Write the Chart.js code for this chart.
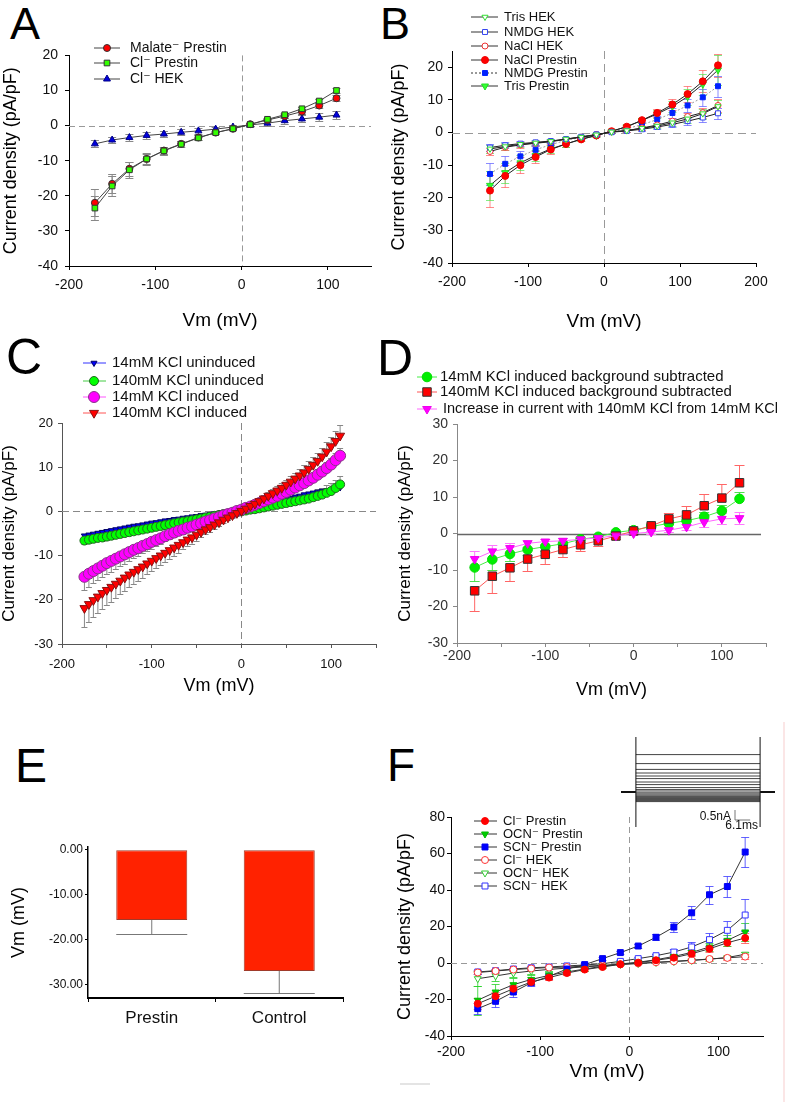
<!DOCTYPE html>
<html>
<head>
<meta charset="utf-8">
<script src="https://cdn.jsdelivr.net/npm/chart.js@4.4.1/dist/chart.umd.min.js"></script>
<style>
body { margin: 0; background: #fff; }
#page { position: relative; width: 787px; height: 1102px; overflow: hidden; font-family: "Liberation Sans", Arial, sans-serif; }
.pnl { position: absolute; }
.lt { position: absolute; line-height: 1; color: #000; }
</style>
</head>
<body>
<div id="page">
  <div class="lt" style="left:10px;top:1px;font-size:45px">A</div>
  <div class="lt" style="left:380px;top:1px;font-size:45px">B</div>
  <div class="lt" style="left:6px;top:332px;font-size:50px">C</div>
  <div class="lt" style="left:377px;top:333px;font-size:50px">D</div>
  <div class="lt" style="left:15px;top:742px;font-size:48px">E</div>
  <div class="lt" style="left:387px;top:742px;font-size:46px">F</div>

  <div class="pnl"><canvas id="chA"></canvas></div>
  <div class="pnl"><canvas id="chB"></canvas></div>
  <div class="pnl"><canvas id="chC"></canvas></div>
  <div class="pnl"><canvas id="chD"></canvas></div>
  <div class="pnl"><canvas id="chE"></canvas></div>
  <div class="pnl"><canvas id="chF"></canvas></div>
  <div class="pnl"><canvas id="chInset"></canvas></div>

  <div style="position:absolute;left:783px;top:722px;width:2px;height:380px;background:#fbe6e6"></div>
  <div style="position:absolute;left:400px;top:1083px;width:30px;height:2px;background:#e4e4e4"></div>
</div>

<script>
// ---- A: anion substitution
const vmA = [-170, -150, -130, -110, -90, -70, -50, -30, -10, 10, 30, 50, 70, 90, 110];
const malateA = [-22.0, -16.6, -12.3, -9.5, -7.1, -5.2, -3.4, -2.0, -0.9, 0.4, 1.6, 2.7, 4.0, 5.7, 7.8];
const malateAErr = [3.8, 2.7, 2.0, 1.5, 1.1, 0.8, 0.6, 0.5, 0.4, 0.4, 0.4, 0.5, 0.6, 0.7, 0.8];
const clPrestinA = [-23.5, -17.2, -12.6, -9.5, -7.2, -5.3, -3.5, -2.0, -0.9, 0.3, 1.8, 3.1, 4.8, 7.0, 10.0];
const clPrestinAErr = [3.5, 2.8, 2.2, 1.6, 1.2, 0.9, 0.7, 0.5, 0.4, 0.4, 0.4, 0.5, 0.6, 0.7, 0.8];
const clHekA = [-5.2, -4.1, -3.4, -2.8, -2.4, -1.9, -1.5, -1.0, -0.4, 0.2, 0.7, 1.4, 1.9, 2.4, 3.0];
const clHekAErr = [1.0, 0.9, 0.9, 0.9, 0.9, 0.8, 0.8, 0.7, 0.6, 0.6, 0.8, 0.9, 1.0, 1.1, 1.2];
const xTicksA = [-200, -100, 0, 100];
const yTicksA = [-40, -30, -20, -10, 0, 10, 20];

// ---- B: cation substitution
const vmB = [-150, -130, -110, -90, -70, -50, -30, -10, 10, 30, 50, 70, 90, 110, 130, 150];
const trisHekB = [-5.0, -4.3, -3.6, -3.2, -2.7, -2.0, -1.4, -0.7, 0.2, 0.6, 1.3, 2.0, 3.0, 4.2, 5.8, 8.0];
const trisHekBErr = [1.2, 1.0, 0.8, 0.7, 0.6, 0.5, 0.4, 0.3, 0.3, 0.4, 0.5, 0.7, 0.9, 1.2, 1.5, 2.0];
const nmdgHekB = [-4.6, -3.9, -3.4, -3.0, -2.6, -2.0, -1.3, -0.6, 0.1, 0.5, 1.0, 1.7, 2.5, 3.5, 4.6, 5.9];
const nmdgHekBErr = [1.0, 0.9, 0.8, 0.7, 0.6, 0.5, 0.4, 0.3, 0.3, 0.4, 0.5, 0.7, 0.9, 1.1, 1.4, 1.6];
const naclHekB = [-5.8, -4.5, -3.8, -3.3, -2.8, -2.1, -1.4, -0.7, 0.2, 0.6, 1.4, 2.3, 3.5, 4.9, 6.1, 8.3];
const naclHekBErr = [1.2, 1.0, 0.9, 0.8, 0.6, 0.5, 0.4, 0.3, 0.3, 0.4, 0.5, 0.7, 0.9, 1.2, 1.5, 2.0];
const naclPrestinB = [-17.8, -13.3, -10.0, -7.5, -5.2, -3.5, -2.1, -0.9, 0.4, 1.8, 3.8, 6.0, 8.6, 11.8, 15.7, 20.6];
const naclPrestinBErr = [4.9, 3.4, 2.5, 1.8, 1.3, 0.9, 0.6, 0.4, 0.4, 0.6, 0.8, 1.2, 1.6, 2.4, 3.4, 3.6];
const nmdgPrestinB = [-12.7, -9.6, -7.3, -5.3, -3.7, -2.4, -1.5, -0.6, 0.2, 1.2, 2.4, 4.0, 6.0, 8.3, 10.8, 14.2];
const nmdgPrestinBErr = [3.3, 2.3, 1.7, 1.2, 0.9, 0.7, 0.5, 0.4, 0.4, 0.5, 0.7, 1.0, 1.4, 2.0, 2.6, 3.2];
const trisPrestinB = [-16.2, -12.3, -9.3, -7.0, -5.0, -3.5, -2.0, -0.9, 0.4, 1.8, 3.7, 5.7, 8.0, 11.0, 14.8, 19.2];
const trisPrestinBErr = [4.4, 3.1, 2.3, 1.7, 1.2, 0.9, 0.6, 0.4, 0.4, 0.6, 0.8, 1.2, 1.7, 2.5, 3.3, 4.5];
const xTicksB = [-200, -100, 0, 100, 200];
const yTicksB = [-40, -30, -20, -10, 0, 10, 20];

// ---- C: KCl ramps
const vmC = [-175, -170, -165, -160, -155, -150, -145, -140, -135, -130,
  -125, -120, -115, -110, -105, -100, -95, -90, -85, -80,
  -75, -70, -65, -60, -55, -50, -45, -40, -35, -30,
  -25, -20, -15, -10, -5, 0, 5, 10, 15, 20,
  25, 30, 35, 40, 45, 50, 55, 60, 65, 70,
  75, 80, 85, 90, 95, 100, 105, 110];
const k14UnC = [-5.5, -5.3, -5.1, -4.9, -4.7, -4.5, -4.3, -4.1, -3.9, -3.7,
  -3.5, -3.3, -3.2, -3.0, -2.8, -2.6, -2.5, -2.3, -2.1, -2.0,
  -1.8, -1.7, -1.5, -1.4, -1.2, -1.1, -0.9, -0.8, -0.7, -0.5,
  -0.4, -0.3, -0.1, 0.0, 0.1, 0.2, 0.5, 0.7, 1.0, 1.2,
  1.4, 1.7, 2.0, 2.2, 2.5, 2.8, 3.0, 3.3, 3.5, 3.8,
  4.0, 4.2, 4.4, 4.6, 4.7, 4.9, 5.1, 5.4];
const k140UnC = [-6.6, -6.4, -6.2, -6.0, -5.9, -5.7, -5.5, -5.3, -5.1, -4.9,
  -4.7, -4.5, -4.3, -4.1, -3.9, -3.7, -3.5, -3.3, -3.1, -2.9,
  -2.7, -2.5, -2.3, -2.2, -2.0, -1.8, -1.6, -1.4, -1.2, -1.0,
  -0.8, -0.6, -0.5, -0.3, -0.2, 0.0, 0.2, 0.4, 0.5, 0.7,
  0.9, 1.1, 1.3, 1.5, 1.7, 1.9, 2.1, 2.3, 2.5, 2.7,
  2.9, 3.2, 3.5, 3.8, 4.2, 4.6, 5.3, 6.1];
const k140UnCErr = [0.8, 0.8, 0.8, 0.7, 0.7, 0.7, 0.7, 0.6, 0.6, 0.6,
  0.6, 0.6, 0.5, 0.5, 0.5, 0.5, 0.5, 0.4, 0.4, 0.4,
  0.4, 0.4, 0.4, 0.3, 0.3, 0.3, 0.3, 0.3, 0.3, 0.3,
  0.3, 0.3, 0.3, 0.3, 0.3, 0.3, 0.3, 0.3, 0.3, 0.4,
  0.4, 0.5, 0.5, 0.6, 0.7, 0.8, 0.9, 1.0, 1.1, 1.2,
  1.3, 1.4, 1.5, 1.6, 1.7, 1.8, 1.9, 2.0];
const k14InC = [-14.8, -14.1, -13.5, -12.9, -12.3, -11.7, -11.2, -10.7, -10.2, -9.7,
  -9.2, -8.7, -8.3, -7.8, -7.4, -6.9, -6.5, -6.1, -5.6, -5.2,
  -4.8, -4.4, -4.1, -3.7, -3.4, -3.0, -2.7, -2.3, -2.0, -1.6,
  -1.3, -0.9, -0.6, -0.3, 0.1, 0.4, 0.8, 1.1, 1.5, 1.9,
  2.3, 2.7, 3.1, 3.5, 4.0, 4.4, 4.9, 5.4, 5.9, 6.4,
  7.0, 7.6, 8.3, 9.0, 9.8, 10.6, 11.6, 12.6];
const k14InCErr = [3.0, 2.9, 2.8, 2.7, 2.6, 2.5, 2.4, 2.3, 2.2, 2.1,
  2.0, 1.9, 1.8, 1.7, 1.6, 1.5, 1.4, 1.3, 1.2, 1.1,
  1.0, 0.9, 0.9, 0.8, 0.8, 0.7, 0.7, 0.6, 0.6, 0.5,
  0.5, 0.4, 0.4, 0.3, 0.3, 0.3, 0.3, 0.4, 0.4, 0.5,
  0.5, 0.6, 0.6, 0.7, 0.7, 0.8, 0.8, 0.9, 0.9, 1.0,
  1.0, 1.1, 1.2, 1.3, 1.4, 1.5, 1.6, 1.8];
const k140InC = [-21.9, -21.0, -20.1, -19.3, -18.5, -17.8, -17.1, -16.4, -15.7, -15.0,
  -14.3, -13.7, -13.1, -12.5, -11.8, -11.2, -10.6, -10.0, -9.4, -8.8,
  -8.2, -7.6, -7.0, -6.4, -5.9, -5.3, -4.7, -4.1, -3.6, -3.0,
  -2.5, -1.9, -1.4, -0.9, -0.4, 0.1, 0.6, 1.2, 1.7, 2.3,
  2.9, 3.5, 4.1, 4.7, 5.3, 6.0, 6.7, 7.4, 8.1, 8.8,
  9.6, 10.5, 11.4, 12.4, 13.5, 14.7, 15.9, 17.1];
const k140InCErr = [4.2, 4.0, 3.9, 3.7, 3.6, 3.4, 3.3, 3.2, 3.0, 2.9,
  2.8, 2.7, 2.6, 2.5, 2.4, 2.3, 2.2, 2.1, 2.0, 1.9,
  1.8, 1.7, 1.6, 1.5, 1.4, 1.3, 1.2, 1.1, 1.0, 0.9,
  0.8, 0.7, 0.6, 0.5, 0.4, 0.3, 0.3, 0.4, 0.5, 0.6,
  0.7, 0.8, 0.9, 1.0, 1.1, 1.2, 1.3, 1.4, 1.5, 1.6,
  1.7, 1.8, 1.9, 2.0, 2.1, 2.2, 2.3, 2.4];
const xTicksCD = [-200, -150, -100, -50, 0, 50, 100, 150];
const xLabelsCD = [-200, -100, 0, 100];
const yTicksC = [-30, -20, -10, 0, 10, 20];

// ---- D: background subtracted
const vmD = [-180, -160, -140, -120, -100, -80, -60, -40, -20, 0, 20, 40, 60, 80, 100, 120];
const k14SubD = [-9.3, -7.1, -5.6, -4.4, -3.6, -2.8, -1.6, -0.9, 0.3, 0.9, 1.9, 2.8, 3.5, 4.6, 6.2, 9.5];
const k14SubDErr = [3.7, 2.8, 2.0, 1.5, 1.2, 1.0, 0.8, 0.6, 0.5, 0.5, 0.6, 0.8, 1.0, 1.2, 1.5, 2.0];
const k140SubD = [-15.7, -11.7, -9.4, -7.0, -5.7, -4.4, -3.1, -2.0, -0.7, 0.7, 2.1, 4.0, 5.1, 7.6, 9.7, 13.9];
const k140SubDErr = [5.6, 4.6, 3.6, 3.2, 2.6, 2.1, 1.7, 1.5, 0.8, 0.5, 0.7, 1.6, 2.5, 3.1, 3.9, 4.8];
const increaseD = [-7.0, -4.9, -4.0, -2.7, -2.2, -2.0, -1.6, -1.2, -0.6, 0.0, 0.4, 0.9, 1.8, 3.1, 4.0, 4.2];
const increaseDErr = [2.2, 1.7, 1.3, 1.0, 0.8, 0.7, 0.6, 0.5, 0.4, 0.4, 0.4, 0.6, 0.9, 1.2, 1.5, 1.6];
const yTicksD = [-30, -20, -10, 0, 10, 20, 30];

// ---- E: resting potential
const groupsE = ['Prestin', 'Control'];
const vmE = [-15.6, -26.9];
const vmEErr = [3.0, 4.9];
const yTicksE = [-30, -20, -10, 0];

// ---- F: SCN / OCN
const vmF = [-170, -150, -130, -110, -90, -70, -50, -30, -10, 10, 30, 50, 70, 90, 110, 130];
const clPrestinF = [-22.3, -18.2, -14.1, -10.4, -8.0, -5.5, -3.6, -2.2, -0.7, 0.2, 1.5, 2.9, 5.1, 7.8, 11.1, 13.7];
const clPrestinFErr = [3.0, 2.5, 2.0, 1.5, 1.2, 1.0, 0.8, 0.6, 0.5, 0.5, 0.6, 0.8, 1.0, 1.5, 2.0, 2.5];
const ocnPrestinF = [-20.4, -15.9, -11.9, -9.0, -6.8, -4.9, -3.3, -1.8, -0.5, 0.4, 1.8, 3.6, 5.8, 8.8, 12.4, 17.0];
const ocnPrestinFErr = [8.0, 4.5, 3.5, 2.5, 1.8, 1.2, 0.9, 0.7, 0.5, 0.5, 0.7, 1.0, 1.5, 2.2, 3.0, 5.0];
const scnPrestinF = [-25.0, -21.0, -15.9, -10.8, -7.3, -3.3, -0.9, 2.4, 5.7, 9.3, 14.1, 19.7, 27.5, 37.4, 41.9, 60.8];
const scnPrestinFErr = [3.0, 3.0, 2.5, 1.8, 1.3, 1.0, 0.9, 0.9, 1.0, 1.2, 1.6, 2.8, 3.6, 5.0, 6.0, 8.0];
const clHekF = [-5.2, -4.4, -3.6, -3.0, -2.5, -2.2, -1.8, -1.3, -0.7, -0.2, 0.4, 0.9, 1.5, 2.2, 2.8, 3.5];
const clHekFErr = [1.0, 0.9, 0.8, 0.7, 0.6, 0.5, 0.5, 0.4, 0.4, 0.4, 0.4, 0.5, 0.6, 0.7, 0.9, 1.2];
const ocnHekF = [-8.6, -7.1, -5.5, -4.4, -3.5, -2.8, -2.1, -1.5, -0.8, -0.3, 0.3, 0.8, 1.4, 2.1, 3.0, 4.8];
const ocnHekFErr = [4.0, 3.0, 2.2, 1.5, 1.1, 0.8, 0.6, 0.5, 0.4, 0.4, 0.4, 0.5, 0.6, 0.8, 1.0, 1.5];
const scnHekF = [-4.9, -4.2, -3.3, -2.6, -2.2, -1.6, -1.1, -0.4, 0.9, 2.4, 4.0, 6.0, 8.8, 12.8, 17.9, 26.3];
const scnHekFErr = [1.0, 0.9, 0.8, 0.7, 0.6, 0.5, 0.5, 0.5, 0.6, 0.7, 1.0, 1.5, 2.5, 3.5, 5.0, 8.5];
const xTicksF = [-200, -100, 0, 100];
const yTicksF = [-40, -20, 0, 20, 40, 60, 80];

// ---- F inset: current traces (nA vs ms)
const insetLevels = [1.87, 1.42, 1.13, 0.95, 0.80, 0.67, 0.50, 0.37, 0.22, 0.12, 0.05,
  -0.04, -0.10, -0.16, -0.22, -0.28, -0.33, -0.38, -0.43, -0.48];
const insetStep = [0, 50];
const insetBase = [-6, 56];
const insetTransient = [-1.75, 2.75];
const insetBarT = [39.9, 46.0];
const insetBarI = [-1.4, -0.9];

Chart.defaults.font.family = '"Liberation Sans", Arial, "DejaVu Sans", sans-serif';
Chart.defaults.color = '#111';

// dashed zero lines
const refLines = {
  id: 'refLines',
  beforeDatasetsDraw(chart, args, o) {
    if (!o || (!o.h && !o.v)) return;
    const ctx = chart.ctx, a = chart.chartArea, xs = chart.scales.x, ys = chart.scales.y;
    ctx.save();
    ctx.strokeStyle = o.color;
    ctx.lineWidth = o.width;
    ctx.setLineDash(o.dash || []);
    ctx.beginPath();
    if (o.h) {
      const py = Math.round(ys.getPixelForValue(0)) + 0.5;
      ctx.moveTo(a.left, py); ctx.lineTo(o.hEnd != null ? o.hEnd : a.right, py);
    }
    if (o.v) {
      const px = Math.round(xs.getPixelForValue(0)) + 0.5;
      ctx.moveTo(px, a.top); ctx.lineTo(px, a.bottom);
    }
    ctx.stroke();
    ctx.restore();
  }
};

// error bars from dataset.err
const errorBars = {
  id: 'errorBars',
  beforeDatasetsDraw(chart) {
    const ctx = chart.ctx, ys = chart.scales.y;
    ctx.save();
    ctx.setLineDash([]);
    chart.data.datasets.forEach((ds, i) => {
      if (!ds.err) return;
      const meta = chart.getDatasetMeta(i);
      ctx.strokeStyle = ds.errColor || '#888';
      ctx.lineWidth = 1;
      meta.data.forEach((el, j) => {
        const raw = ds.data[j];
        const v = typeof raw === 'number' ? raw : raw.y;
        const e = ds.err[j];
        if (e == null) return;
        const cap = ds.capHalf != null ? ds.capHalf : el.width / 2;
        const ends = ds.errAway ? [v < 0 ? v - e : v + e] : [v - e, v + e];
        const y0 = ys.getPixelForValue(v);
        ctx.beginPath();
        ends.forEach(t => {
          const y1 = Math.round(ys.getPixelForValue(t)) + 0.5;
          ctx.moveTo(el.x, y0); ctx.lineTo(el.x, y1);
          ctx.moveTo(el.x - cap, y1); ctx.lineTo(el.x + cap, y1);
        });
        ctx.stroke();
      });
    });
    ctx.restore();
  }
};

// legend rows at fixed page positions
const keyList = {
  id: 'keyList',
  afterDatasetsDraw(chart, args, o) {
    if (!o || !o.rows) return;
    const ctx = chart.ctx, dx = o.off[0], dy = o.off[1];
    ctx.save();
    o.rows.forEach(r => {
      const ds = chart.data.datasets[r.ds];
      const y = r.y - dy;
      ctx.setLineDash(ds.borderDash || []);
      ctx.strokeStyle = o.lineColor || ds.borderColor;
      ctx.lineWidth = 1;
      ctx.beginPath();
      ctx.moveTo(o.lx[0] - dx, y); ctx.lineTo(o.lx[1] - dx, y);
      ctx.stroke();
      ctx.setLineDash([]);
      ctx.fillStyle = ds.pointBackgroundColor;
      ctx.strokeStyle = ds.pointBorderColor;
      ctx.lineWidth = ds.pointBorderWidth;
      Chart.helpers.drawPoint(ctx, {
        pointStyle: ds.pointStyle, rotation: ds.pointRotation || 0,
        radius: ds.pointRadius, borderWidth: ds.pointBorderWidth
      }, o.mx - dx, y);
      ctx.fillStyle = '#111';
      ctx.font = o.font;
      ctx.textAlign = 'left';
      ctx.textBaseline = 'middle';
      if (r.maxW) ctx.fillText(r.text, (r.tx || o.tx) - dx, y, r.maxW);
      else ctx.fillText(r.text, (r.tx || o.tx) - dx, y);
    });
    ctx.restore();
  }
};

function ser(xs, ys, err, st) {
  return Object.assign({
    data: xs.map((x, i) => ({ x: x, y: ys[i] })),
    err: err, fill: false, tension: 0, borderWidth: 1,
    pointBorderWidth: 1, pointRotation: 0, pointHoverRadius: 0, clip: false
  }, st);
}

function ivChart(id, p) {
  const [bl, bt, br, bb] = p.box, [al, at, ar, ab] = p.area;
  const cv = document.getElementById(id);
  Object.assign(cv.parentNode.style, {
    left: bl + 'px', top: bt + 'px', width: (br - bl) + 'px', height: (bb - bt) + 'px'
  });
  const axis = (o, isX) => ({
    type: 'linear', min: o.min, max: o.max,
    afterBuildTicks: s => { s.ticks = o.ticks.map(v => ({ value: v })); },
    afterFit: s => { if (isX) s.height = bb - ab; else s.width = al - bl; },
    ticks: {
      autoSkip: false, maxRotation: 0, minRotation: 0, padding: o.pad,
      color: o.tc || '#111', font: { size: o.fs },
      callback: v => (!o.labels || o.labels.includes(v)) ? String(v) : ''
    },
    grid: { drawOnChartArea: false, drawTicks: true, tickLength: o.tl, color: o.color },
    border: { color: o.color, width: o.bw || 1 },
    title: {
      display: true, text: o.title, color: '#000', font: { size: o.tfs },
      padding: isX ? { top: 0, bottom: bb - o.at - 0.6 * o.tfs } : { top: o.at - bl - 0.6 * o.tfs, bottom: 0 }
    }
  });
  return new Chart(cv, {
    type: 'line',
    data: { datasets: p.datasets },
    options: {
      responsive: true, maintainAspectRatio: false, animation: false, events: [],
      layout: { padding: { left: 0, top: at - bt, right: br - ar, bottom: 0 } },
      scales: { x: axis(p.x, true), y: axis(p.y, false) },
      plugins: {
        legend: { display: false }, tooltip: { enabled: false },
        refLines: p.ref,
        keyList: Object.assign({ off: [bl, bt] }, p.key)
      }
    },
    plugins: [refLines, errorBars, keyList]
  });
}

// A
ivChart('chA', {
  box: [0, 40, 385, 335], area: [69, 53, 371, 266],
  x: { min: -200, max: 150, ticks: xTicksA, fs: 14, tl: 4, pad: 6.6, color: '#000', title: 'Vm (mV)', tfs: 19, at: 321 },
  y: { min: -40, max: 20, ticks: yTicksA, fs: 14, tl: 4, pad: 7, color: '#000', title: 'Current density (pA/pF)', tfs: 18, at: 11 },
  ref: { h: true, v: true, dash: [6, 4], color: '#999', width: 1 },
  key: {
    lx: [94, 120], mx: 107, tx: 130, font: '14px "Liberation Sans", Arial, "DejaVu Sans", sans-serif', lineColor: '#444',
    rows: [{ ds: 1, y: 48, text: 'Malate⁻ Prestin' }, { ds: 0, y: 63, text: 'Cl⁻ Prestin' }, { ds: 2, y: 79, text: 'Cl⁻ HEK' }]
  },
  datasets: [
    ser(vmA, clPrestinA, clPrestinAErr, { borderColor: '#444', pointStyle: 'rect', pointRadius: 4, pointBackgroundColor: '#33ff00', pointBorderColor: '#333', errColor: '#888', capHalf: 4 }),
    ser(vmA, malateA, malateAErr, { borderColor: '#444', pointStyle: 'circle', pointRadius: 3.5, pointBackgroundColor: '#ff0000', pointBorderColor: '#333', errColor: '#888', capHalf: 4 }),
    ser(vmA, clHekA, clHekAErr, { borderColor: '#444', pointStyle: 'triangle', pointRadius: 4, pointBackgroundColor: '#0000dd', pointBorderColor: '#000088', errColor: '#888', capHalf: 4 })
  ]
});

// B
ivChart('chB', {
  box: [390, 0, 787, 335], area: [452, 51, 756, 263],
  x: { min: -200, max: 200, ticks: xTicksB, fs: 14, tl: 4, pad: 6.6, color: '#000', title: 'Vm (mV)', tfs: 19, at: 322 },
  y: { min: -40, max: 25, ticks: yTicksB, fs: 14, tl: 4, pad: 5, color: '#000', title: 'Current density (pA/pF)', tfs: 18, at: 399 },
  ref: { h: true, v: true, dash: [8, 5], color: '#999', width: 1 },
  key: {
    lx: [471, 498], mx: 485, tx: 504, font: '13px "Liberation Sans", Arial, "DejaVu Sans", sans-serif', lineColor: '#333',
    rows: [
      { ds: 0, y: 17, text: 'Tris HEK' }, { ds: 1, y: 32, text: 'NMDG HEK' }, { ds: 2, y: 46, text: 'NaCl HEK' },
      { ds: 3, y: 60, text: 'NaCl Prestin' }, { ds: 4, y: 73, text: 'NMDG Prestin' }, { ds: 5, y: 86, text: 'Tris Prestin' }
    ]
  },
  datasets: [
    ser(vmB, trisHekB, trisHekBErr, { borderColor: '#222', pointStyle: 'triangle', pointRotation: 180, pointRadius: 3.5, pointBackgroundColor: '#ffffff', pointBorderColor: '#33dd33', errColor: 'rgba(80,230,80,0.7)', capHalf: 4 }),
    ser(vmB, nmdgHekB, nmdgHekBErr, { borderColor: '#222', pointStyle: 'rect', pointRadius: 3.5, pointBackgroundColor: '#ffffff', pointBorderColor: '#3344ee', errColor: 'rgba(90,90,255,0.7)', capHalf: 4 }),
    ser(vmB, naclHekB, naclHekBErr, { borderColor: '#222', pointStyle: 'circle', pointRadius: 3, pointBackgroundColor: '#ffffff', pointBorderColor: '#ee3333', errColor: 'rgba(255,90,90,0.7)', capHalf: 4 }),
    ser(vmB, naclPrestinB, naclPrestinBErr, { borderColor: '#222', pointStyle: 'circle', pointRadius: 3.5, pointBackgroundColor: '#ff0000', pointBorderColor: '#ee0000', errColor: 'rgba(255,90,90,0.7)', capHalf: 4 }),
    ser(vmB, nmdgPrestinB, nmdgPrestinBErr, { borderColor: '#999', borderDash: [2, 2], pointStyle: 'rect', pointRadius: 3.5, pointBackgroundColor: '#0022ff', pointBorderColor: '#0022ff', errColor: 'rgba(90,90,255,0.7)', capHalf: 4 }),
    ser(vmB, trisPrestinB, trisPrestinBErr, { borderColor: '#222', pointStyle: 'triangle', pointRotation: 180, pointRadius: 4, pointBackgroundColor: '#33ff33', pointBorderColor: '#22dd22', errColor: 'rgba(80,230,80,0.7)', capHalf: 4 })
  ]
});

// C
ivChart('chC', {
  box: [0, 340, 385, 700], area: [62, 423, 378, 644],
  x: { min: -200, max: 150, ticks: xTicksCD, labels: xLabelsCD, fs: 13, tl: 4, pad: 9, color: '#555', title: 'Vm (mV)', tfs: 18, at: 686 },
  y: { min: -30, max: 20, ticks: yTicksC, fs: 13, tl: 4, pad: 5, color: '#555', title: 'Current density (pA/pF)', tfs: 17, at: 9 },
  ref: { h: true, v: true, dash: [7, 4], color: '#888', width: 1 },
  key: {
    lx: [83, 106], mx: 94, tx: 112, font: '15px "Liberation Sans", Arial, "DejaVu Sans", sans-serif',
    rows: [
      { ds: 3, y: 363, text: '14mM KCl uninduced' }, { ds: 2, y: 381, text: '140mM KCl uninduced' },
      { ds: 1, y: 397, text: '14mM KCl induced' }, { ds: 0, y: 413, text: '140mM KCl induced' }
    ]
  },
  datasets: [
    ser(vmC, k140InC, k140InCErr, { borderColor: '#ff5555', pointStyle: 'triangle', pointRotation: 180, pointRadius: 5.2, pointBackgroundColor: '#ff0000', pointBorderColor: '#881111', errColor: '#888', capHalf: 3, errAway: true }),
    ser(vmC, k14InC, k14InCErr, { borderColor: '#ff55ff', pointStyle: 'circle', pointRadius: 5.5, pointBackgroundColor: '#ff00ff', pointBorderColor: '#883388', errColor: '#888', capHalf: 3, errAway: true }),
    ser(vmC, k140UnC, k140UnCErr, { borderColor: '#44cc44', pointStyle: 'circle', pointRadius: 4.5, pointBackgroundColor: '#00ff00', pointBorderColor: '#226622', errColor: '#888', capHalf: 3, errAway: true }),
    ser(vmC, k14UnC, null, { borderColor: '#3333ff', pointStyle: 'triangle', pointRotation: 180, pointRadius: 3.5, pointBackgroundColor: '#0000ff', pointBorderColor: '#000066' })
  ]
});

// D
ivChart('chD', {
  box: [390, 365, 787, 705], area: [457, 424, 766, 643],
  x: { min: -200, max: 150, ticks: xTicksCD, labels: xLabelsCD, fs: 14, tl: 4, pad: 1, color: '#888', tc: '#333', title: 'Vm (mV)', tfs: 18, at: 690 },
  y: { min: -30, max: 30, ticks: yTicksD, fs: 14, tl: 4, pad: 5, color: '#888', tc: '#333', title: 'Current density (pA/pF)', tfs: 17, at: 405 },
  ref: { h: true, v: false, dash: [], color: '#666', width: 1.5, hEnd: 371 },
  key: {
    lx: [417, 437], mx: 427, tx: 440, font: '15px "Liberation Sans", Arial, "DejaVu Sans", sans-serif',
    rows: [
      { ds: 2, y: 377, text: '14mM KCl induced background subtracted' },
      { ds: 1, y: 392, text: '140mM KCl induced background subtracted' },
      { ds: 0, y: 409, tx: 443, maxW: 335, text: 'Increase in current with 140mM KCl from 14mM KCl' }
    ]
  },
  datasets: [
    ser(vmD, increaseD, increaseDErr, { borderColor: '#ff66ff', pointStyle: 'triangle', pointRotation: 180, pointRadius: 5, pointBackgroundColor: '#ff00ff', pointBorderColor: '#ee00ee', errColor: '#ff77ff', capHalf: 5 }),
    ser(vmD, k140SubD, k140SubDErr, { borderColor: '#ff5555', pointStyle: 'rect', pointRadius: 6, pointBackgroundColor: '#ff0000', pointBorderColor: '#333', errColor: '#ff6666', capHalf: 5, errAway: true }),
    ser(vmD, k14SubD, k14SubDErr, { borderColor: '#44ee44', pointStyle: 'circle', pointRadius: 4.8, pointBackgroundColor: '#00ee00', pointBorderColor: '#00dd00', errColor: 'rgba(60,220,60,0.9)', capHalf: 5, errAway: true })
  ]
});

// F
ivChart('chF', {
  box: [390, 800, 787, 1090], area: [451, 817, 763, 1036],
  x: { min: -200, max: 150, ticks: xTicksF, fs: 14, tl: 4, pad: 3.6, color: '#000', title: 'Vm (mV)', tfs: 19, at: 1072 },
  y: { min: -40, max: 80, ticks: yTicksF, fs: 14, tl: 4, pad: 2, color: '#000', title: 'Current density (pA/pF)', tfs: 18, at: 405 },
  ref: { h: true, v: true, dash: [6, 4], color: '#999', width: 1 },
  key: {
    lx: [474, 497], mx: 485, tx: 503, font: '13px "Liberation Sans", Arial, "DejaVu Sans", sans-serif', lineColor: '#333',
    rows: [
      { ds: 0, y: 821, text: 'Cl⁻ Prestin' }, { ds: 1, y: 834, text: 'OCN⁻ Prestin' }, { ds: 2, y: 847, text: 'SCN⁻ Prestin' },
      { ds: 3, y: 860, text: 'Cl⁻ HEK' }, { ds: 4, y: 873, text: 'OCN⁻ HEK' }, { ds: 5, y: 886, text: 'SCN⁻ HEK' }
    ]
  },
  datasets: [
    ser(vmF, clPrestinF, clPrestinFErr, { borderColor: '#333', pointStyle: 'circle', pointRadius: 3.5, pointBackgroundColor: '#ff0000', pointBorderColor: '#ff0000', errColor: 'rgba(255,80,80,0.8)', capHalf: 4 }),
    ser(vmF, ocnPrestinF, ocnPrestinFErr, { borderColor: '#333', pointStyle: 'triangle', pointRotation: 180, pointRadius: 4, pointBackgroundColor: '#00cc00', pointBorderColor: '#00bb00', errColor: 'rgba(40,210,40,0.8)', capHalf: 4 }),
    ser(vmF, scnPrestinF, scnPrestinFErr, { borderColor: '#333', pointStyle: 'rect', pointRadius: 4.2, pointBackgroundColor: '#0000ff', pointBorderColor: '#0000ee', errColor: 'rgba(60,60,255,0.8)', capHalf: 4 }),
    ser(vmF, clHekF, clHekFErr, { borderColor: '#333', pointStyle: 'circle', pointRadius: 3.5, pointBackgroundColor: '#ffffff', pointBorderColor: '#ff3333', errColor: 'rgba(255,80,80,0.8)', capHalf: 4 }),
    ser(vmF, ocnHekF, ocnHekFErr, { borderColor: '#333', pointStyle: 'triangle', pointRotation: 180, pointRadius: 4, pointBackgroundColor: '#ffffff', pointBorderColor: '#33cc33', errColor: 'rgba(40,210,40,0.8)', capHalf: 4 }),
    ser(vmF, scnHekF, scnHekFErr, { borderColor: '#333', pointStyle: 'rect', pointRadius: 4.2, pointBackgroundColor: '#ffffff', pointBorderColor: '#3333ff', errColor: 'rgba(60,60,255,0.8)', capHalf: 4 })
  ]
});

// E: bar chart
(function () {
  const box = [0, 830, 360, 1045], area = [88, 847, 343, 998];
  const cv = document.getElementById('chE');
  Object.assign(cv.parentNode.style, {
    left: box[0] + 'px', top: box[1] + 'px', width: (box[2] - box[0]) + 'px', height: (box[3] - box[1]) + 'px'
  });
  new Chart(cv, {
    type: 'bar',
    data: {
      labels: groupsE,
      datasets: [{
        data: vmE, err: vmEErr, errAway: true, errColor: '#777',
        backgroundColor: '#ff2200', borderColor: '#a03a2a', borderWidth: 1, borderSkipped: false,
        barPercentage: 0.557, categoryPercentage: 1
      }]
    },
    options: {
      responsive: true, maintainAspectRatio: false, animation: false, events: [],
      layout: { padding: { left: 0, top: area[1] - box[1], right: box[2] - area[2], bottom: 0 } },
      scales: {
        x: {
          afterFit: s => { s.height = box[3] - area[3]; },
          ticks: { font: { size: 17 }, color: '#111', padding: 5.8 },
          grid: { drawOnChartArea: false, tickLength: 4, color: '#000' },
          border: { color: '#000', width: 2 }
        },
        y: {
          min: -32.9, max: 0.6,
          afterBuildTicks: s => { s.ticks = yTicksE.map(v => ({ value: v })); },
          afterFit: s => { s.width = area[0] - box[0]; },
          ticks: { font: { size: 12 }, color: '#111', padding: 2, callback: v => v.toFixed(2) },
          grid: { drawOnChartArea: false, tickLength: 3, color: '#000' },
          border: { color: '#000', width: 1.5 },
          title: { display: true, text: 'Vm (mV)', color: '#000', font: { size: 18 }, padding: { top: 19 - 0.6 * 18, bottom: 0 } }
        }
      },
      plugins: { legend: { display: false }, tooltip: { enabled: false } }
    },
    plugins: [errorBars]
  });
})();

// F inset: current traces with scale bar
const insetBar = {
  id: 'insetBar',
  afterDatasetsDraw(chart) {
    const ctx = chart.ctx, xs = chart.scales.x, ys = chart.scales.y;
    const x0 = xs.getPixelForValue(insetBarT[0]), x1 = xs.getPixelForValue(insetBarT[1]);
    const yTop = ys.getPixelForValue(insetBarI[1]), yBot = ys.getPixelForValue(insetBarI[0]);
    ctx.save();
    ctx.strokeStyle = '#777';
    ctx.lineWidth = 1;
    ctx.beginPath();
    ctx.moveTo(x0, yTop); ctx.lineTo(x0, yBot); ctx.lineTo(x1, yBot);
    ctx.stroke();
    ctx.fillStyle = '#111';
    ctx.font = '12px "Liberation Sans", Arial, sans-serif';
    ctx.textBaseline = 'middle';
    ctx.textAlign = 'right';
    ctx.fillText('0.5nA', x0 - 4, (yTop + yBot) / 2 + 2);
    ctx.textAlign = 'center';
    ctx.fillText('6.1ms', (x0 + x1) / 2 - 1, yBot + 6);
    ctx.restore();
  }
};

(function () {
  const box = [600, 730, 787, 840], area = [621, 735, 775, 829];
  const cv = document.getElementById('chInset');
  Object.assign(cv.parentNode.style, {
    left: box[0] + 'px', top: box[1] + 'px', width: (box[2] - box[0]) + 'px', height: (box[3] - box[1]) + 'px'
  });
  const line = (pts, w) => ({ data: pts, borderColor: '#111', borderWidth: w, pointRadius: 0, fill: false, tension: 0 });
  const sets = insetLevels.map(l => line([{ x: insetStep[0], y: l }, { x: insetStep[1], y: l }], 0.8));
  sets.push(line([{ x: insetBase[0], y: 0 }, { x: insetStep[0], y: 0 }], 2));
  sets.push(line([{ x: insetStep[1], y: 0 }, { x: insetBase[1], y: 0 }], 2));
  sets.push(line([{ x: insetStep[0], y: insetTransient[0] }, { x: insetStep[0], y: insetTransient[1] }], 1));
  sets.push(line([{ x: insetStep[1], y: insetTransient[0] }, { x: insetStep[1], y: insetTransient[1] }], 1));
  new Chart(cv, {
    type: 'line',
    data: { datasets: sets },
    options: {
      responsive: true, maintainAspectRatio: false, animation: false, events: [],
      layout: { padding: { left: area[0] - box[0], top: area[1] - box[1], right: box[2] - area[2], bottom: box[3] - area[3] } },
      scales: {
        x: { type: 'linear', min: insetBase[0], max: insetBase[1], display: false },
        y: { type: 'linear', min: -1.85, max: 2.85, display: false }
      },
      plugins: { legend: { display: false }, tooltip: { enabled: false } }
    },
    plugins: [insetBar]
  });
})();
</script>
</body>
</html>
